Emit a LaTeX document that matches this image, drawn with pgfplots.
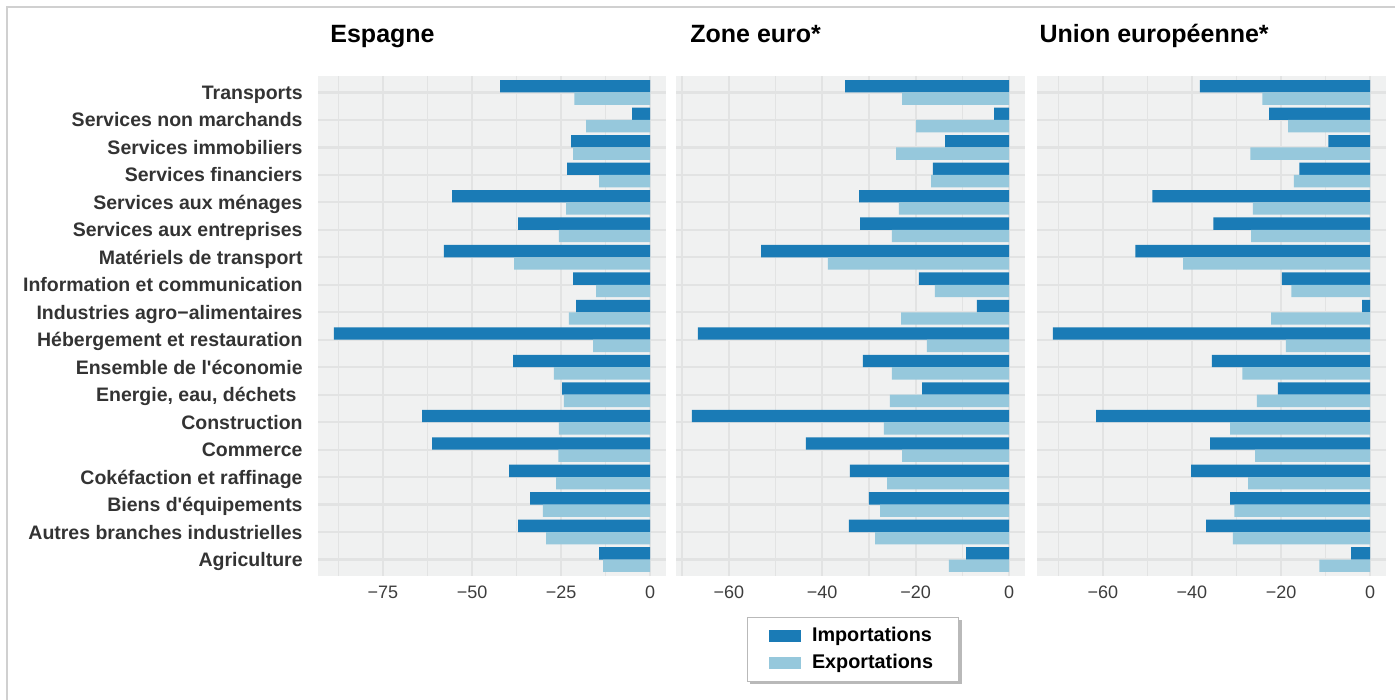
\documentclass[border=0pt]{standalone}
\usepackage{fontspec}
\setmainfont{Liberation Sans}
\usepackage{pgfplots}
\usepackage{pgfplotstable}
\pgfplotsset{compat=1.18}
\usetikzlibrary{shadows}
\definecolor{imp}{HTML}{1A7BB6}
\definecolor{expc}{HTML}{96C8DC}
\definecolor{panelbg}{HTML}{F0F1F1}
\definecolor{gridc}{HTML}{E2E3E3}
\definecolor{txt}{HTML}{3D3D3D}
\definecolor{lab}{HTML}{333333}
\definecolor{frame}{HTML}{D0D0D0}

\pgfplotstableread{
y  espimp espexp zeimp zeexp ueimp ueexp
18 -42.1 -21.3 -35.1 -22.9 -38.2 -24.2
17 -5.1 -18.0 -3.2 -19.9 -22.7 -18.4
16 -22.2 -21.6 -13.7 -24.2 -9.4 -26.9
15 -23.3 -14.3 -16.3 -16.7 -15.9 -17.1
14 -55.6 -23.6 -32.1 -23.6 -48.9 -26.3
13 -37.1 -25.6 -31.9 -25.1 -35.2 -26.7
12 -57.9 -38.2 -53.1 -38.8 -52.7 -42.0
11 -21.6 -15.2 -19.3 -15.9 -19.8 -17.7
10 -20.8 -22.8 -6.9 -23.1 -1.8 -22.2
9  -88.8 -16.0 -66.6 -17.6 -71.2 -18.9
8  -38.5 -27.0 -31.3 -25.1 -35.5 -28.7
7  -24.7 -24.2 -18.6 -25.5 -20.7 -25.4
6  -64.0 -25.6 -67.9 -26.8 -61.5 -31.4
5  -61.2 -25.8 -43.5 -22.9 -35.9 -25.8
4  -39.6 -26.4 -34.1 -26.1 -40.2 -27.4
3  -33.7 -30.1 -30.0 -27.6 -31.4 -30.5
2  -37.1 -29.2 -34.3 -28.7 -36.8 -30.8
1  -14.3 -13.2 -9.2 -12.9 -4.3 -11.4
}\data

\pgfplotsset{
  panel/.style={
    scale only axis, width=174.5pt, height=250pt,
    ymin=0.4, ymax=18.6, ytick={1,...,18}, yticklabels={},
    axis line style={draw=none}, major tick length=0pt, minor tick length=0pt,
    xmajorgrids, xminorgrids, ymajorgrids,
    major grid style={gridc, line width=1.1pt},
    minor grid style={gridc, line width=0.6pt},
    axis background/.style={fill=panelbg},
    tick label style={font=\fontsize{9}{11}\selectfont, text=txt},
    xticklabel style={anchor=north, inner sep=0pt, yshift=-5pt},
    title style={font=\bfseries\fontsize{12.5}{15}\selectfont, anchor=base west, inner sep=0pt},
  },
  impbar/.style={xbar, bar width=0.45, bar shift=0.225, fill=imp, draw=none,
    legend image code/.code={\pgfsetfillcolor{imp}\pgfpathrectangle{\pgfpoint{0pt}{-3pt}}{\pgfpoint{16pt}{6pt}}\pgfusepath{fill}\path (19.5pt,0pt);}},
  expbar/.style={xbar, bar width=0.45, bar shift=-0.225, fill=expc, draw=none,
    legend image code/.code={\pgfsetfillcolor{expc}\pgfpathrectangle{\pgfpoint{0pt}{-3pt}}{\pgfpoint{16pt}{6pt}}\pgfusepath{fill}\path (19.5pt,0pt);}},
}

\begin{document}
\begin{tikzpicture}
\useasboundingbox (0,0) rectangle (697.5pt,350pt);
\draw[frame, line width=0.8pt] (3.5pt,0pt) -- (3.5pt,346.5pt) -- (700pt,346.5pt);

% Espagne
\begin{axis}[panel, at={(159pt,62pt)}, anchor=south west, width=174pt,
  xmin=-93.24, xmax=4.44,
  xtick={-75,-50,-25,0}, xticklabels={−75,−50,−25,0},
  minor xtick={-87.5,-62.5,-37.5,-12.5},
  yticklabels={Agriculture,Autres branches industrielles,Biens d\textquotesingle équipements,Cokéfaction et raffinage,Commerce,Construction,Energie{,} eau{,} déchets\rule{3pt}{0pt},Ensemble de l\textquotesingle économie,Hébergement et restauration,Industries agro−alimentaires,Information et communication,Matériels de transport,Services aux entreprises,Services aux ménages,Services financiers,Services immobiliers,Services non marchands,Transports},
  yticklabel style={anchor=base east, inner sep=0pt, xshift=-7.5pt, yshift=-3.5pt, font=\bfseries\fontsize{9.75}{11}\selectfont, text=lab},
  title={Espagne}, title style={at={(0.0345,1.042)}},
]
\addplot[impbar] table[x=espimp, y=y]{\data};
\addplot[expbar] table[x=espexp, y=y]{\data};
\end{axis}

% Zone euro
\begin{axis}[panel, at={(338pt,62pt)}, anchor=south west,
  xmin=-71.3, xmax=3.4,
  xtick={-60,-40,-20,0}, xticklabels={−60,−40,−20,0},
  minor xtick={-70,-50,-30,-10},
  title={Zone euro*}, title style={at={(0.040,1.042)}},
  legend style={at={(0.2034,-0.082)}, anchor=north west, draw=gray!55, fill=white,
    drop shadow={shadow xshift=1.5pt, shadow yshift=-1.5pt, fill=gray!55, opacity=1},
    font=\bfseries\fontsize{9.9}{11}\selectfont, inner xsep=11pt, inner ysep=3pt,
    row sep=1.5pt, nodes={inner sep=1.8pt}},
  legend cell align=left,
]
\addplot[impbar] table[x=zeimp, y=y]{\data};
\addlegendentry{Importations}
\addplot[expbar] table[x=zeexp, y=y]{\data};
\addlegendentry{Exportations}
\end{axis}

% Union europeenne
\begin{axis}[panel, at={(518.5pt,62pt)}, anchor=south west,
  xmin=-74.76, xmax=3.56,
  xtick={-60,-40,-20,0}, xticklabels={−60,−40,−20,0},
  minor xtick={-70,-50,-30,-10},
  title={Union européenne*}, title style={at={(0.006,1.042)}},
]
\addplot[impbar] table[x=ueimp, y=y]{\data};
\addplot[expbar] table[x=ueexp, y=y]{\data};
\end{axis}
\end{tikzpicture}
\end{document}
